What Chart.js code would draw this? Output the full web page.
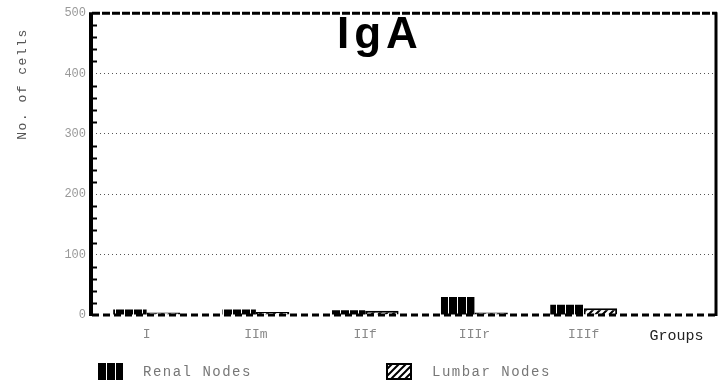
<!DOCTYPE html>
<html>
<head>
<meta charset="utf-8">
<script src="https://cdn.jsdelivr.net/npm/chart.js@4/dist/chart.umd.min.js"></script>
<style>
html,body{margin:0;padding:0;background:#fff;}
#wrap{position:relative;width:723px;height:385px;}
</style>
</head>
<body>
<div id="wrap"><canvas id="c"></canvas></div>
<script>
// ---- data ----
const categories = ['I', 'IIm', 'IIf', 'IIIr', 'IIIf'];
const axisEndLabel = 'Groups';
const renalNodes = [9, 9, 8, 30, 17];
const lumbarNodes = [4, 5, 7, 4, 11];
const yTickValues = [0, 100, 200, 300, 400, 500];
const seriesNames = ['Renal Nodes', 'Lumbar Nodes'];
const chartTitle = 'IgA';
const yTitle = 'No. of cells';

// ---- patterns ----
function renalPattern() {
  const c = document.createElement('canvas');
  c.width = 9; c.height = 9;
  const g = c.getContext('2d');
  g.fillStyle = '#000'; g.fillRect(0, 0, 9, 9);
  g.fillStyle = '#fff'; g.fillRect(7, 0, 1, 9);
  return g.createPattern(c, 'repeat');
}
function lumbarPattern() {
  const s = 7;
  const c = document.createElement('canvas');
  c.width = s; c.height = s;
  const g = c.getContext('2d');
  g.fillStyle = '#fff'; g.fillRect(0, 0, s, s);
  g.strokeStyle = '#000'; g.lineWidth = 2;
  g.beginPath();
  g.moveTo(0, s); g.lineTo(s, 0);
  g.moveTo(-1, 1); g.lineTo(1, -1);
  g.moveTo(s - 1, s + 1); g.lineTo(s + 1, s - 1);
  g.stroke();
  return g.createPattern(c, 'repeat');
}
const fills = [renalPattern(), lumbarPattern()];

const mono = '"Liberation Mono", "DejaVu Sans Mono", monospace';

const framePlugin = {
  id: 'frame',
  afterDatasetsDraw(chart) {
    const {ctx, chartArea: a, scales: {y}} = chart;
    ctx.save();
    ctx.strokeStyle = '#000'; ctx.lineWidth = 2;
    for (let v = 20; v < 500; v += 20) {
      if (v % 100 === 0) continue;
      const py = Math.round(y.getPixelForValue(v)) + 0.5;
      ctx.beginPath(); ctx.moveTo(a.left, py); ctx.lineTo(a.left + 5, py); ctx.stroke();
    }
    ctx.lineWidth = 3; ctx.setLineDash([8, 2]);
    ctx.beginPath(); ctx.moveTo(a.left, a.top); ctx.lineTo(a.right, a.top); ctx.stroke();
    ctx.lineWidth = 3; ctx.setLineDash([7, 4]);
    ctx.beginPath(); ctx.moveTo(a.left, a.bottom); ctx.lineTo(a.right, a.bottom); ctx.stroke();
    ctx.setLineDash([]);
    ctx.lineWidth = 4;
    ctx.beginPath(); ctx.moveTo(a.left - 1, a.top - 1); ctx.lineTo(a.left - 1, a.bottom + 1); ctx.stroke();
    ctx.lineWidth = 3;
    ctx.beginPath(); ctx.moveTo(a.right - 1, a.top - 1); ctx.lineTo(a.right - 1, a.bottom + 1); ctx.stroke();

    ctx.fillStyle = '#000';
    ctx.font = 'bold 44px "Liberation Sans", Arial, sans-serif';
    ctx.letterSpacing = '5px';
    ctx.textBaseline = 'alphabetic'; ctx.textAlign = 'left';
    ctx.fillText(chartTitle, 337, 48);

    ctx.letterSpacing = '1.5px';
    ctx.font = '13px ' + mono;
    ctx.fillStyle = '#555';
    ctx.translate(26, 84);
    ctx.rotate(-Math.PI / 2);
    ctx.textAlign = 'center'; ctx.textBaseline = 'alphabetic';
    ctx.fillText(yTitle, 0, 0);
    ctx.restore();

    ctx.save();
    const items = [{x: 97, tx: 143}, {x: 386, tx: 432}];
    items.forEach((it, i) => {
      ctx.fillStyle = fills[i];
      ctx.fillRect(it.x, 363, 26, 17);
      if (i === 1) { ctx.strokeStyle = '#000'; ctx.lineWidth = 2; ctx.strokeRect(it.x + 1, 364, 24, 15); }
      ctx.fillStyle = '#777';
      ctx.font = '14px ' + mono;
      ctx.letterSpacing = '1.5px';
      ctx.textAlign = 'left'; ctx.textBaseline = 'middle';
      ctx.fillText(chart.data.datasets[i].label, it.tx, 372);
    });
    ctx.restore();
  }
};

new Chart(document.getElementById('c'), {
  type: 'bar',
  data: {
    datasets: [
      {label: seriesNames[0], data: renalNodes.map((v, i) => ({x: i + 0.5, y: v})), backgroundColor: fills[0], borderWidth: 0},
      {label: seriesNames[1], data: lumbarNodes.map((v, i) => ({x: i + 0.5, y: v})), backgroundColor: fills[1], borderColor: '#000', borderWidth: 2}
    ]
  },
  options: {
    responsive: true,
    maintainAspectRatio: false,
    animation: false,
    categoryPercentage: 0.72,
    barPercentage: 1.0,
    layout: {padding: {left: 0, top: 13, right: 6, bottom: 0}},
    plugins: {legend: {display: false}, tooltip: {enabled: false}},
    scales: {
      x: {
        type: 'linear', min: 0, max: 5.72, offset: false,
        afterBuildTicks(scale) {
          scale.ticks = categories.map((c, i) => ({value: i + 0.5})).concat([{value: 5.35}]);
        },
        afterFit(scale) { scale.height = 70; },
        grid: {display: false, drawTicks: false, offset: false},
        border: {display: false},
        ticks: {
          autoSkip: false, maxRotation: 0, padding: 12,
          callback(v, idx) { return idx < categories.length ? categories[idx] : axisEndLabel; },
          color: (c) => c.index === categories.length ? '#222' : '#888',
          font: (c) => c.index === categories.length ? {family: mono, size: 15} : {family: mono, size: 13}
        }
      },
      y: {
        min: 0, max: 500,
        afterBuildTicks(scale) { scale.ticks = yTickValues.map(v => ({value: v})); },
        afterFit(scale) { scale.width = 92; },
        grid: {
          drawTicks: false,
          color: (c) => (c.tick && (c.tick.value === 0 || c.tick.value === 500)) ? 'rgba(0,0,0,0)' : '#555',
          lineWidth: 1
        },
        border: {display: false, dash: [1, 3]},
        ticks: {padding: 6, color: '#999', font: {family: mono, size: 12}}
      }
    }
  },
  plugins: [framePlugin]
});
</script>
</body>
</html>
